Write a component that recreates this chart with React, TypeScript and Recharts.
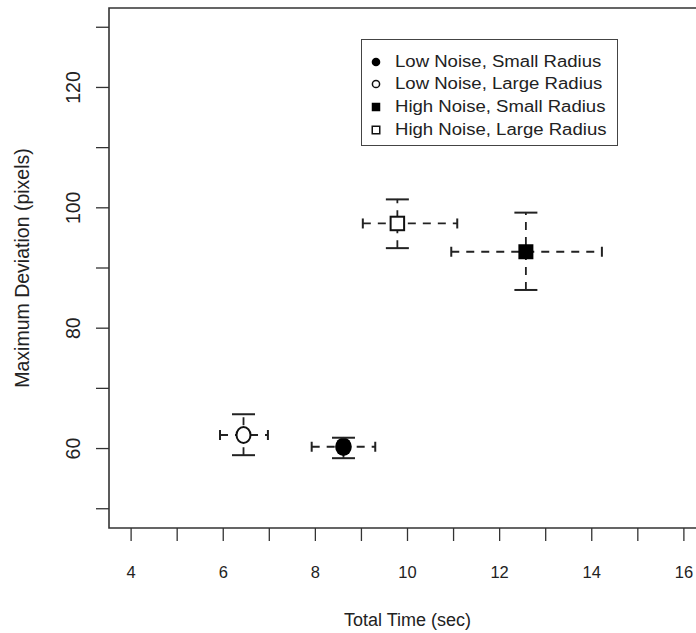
import {
  ErrorBar,
  Legend,
  ReferenceArea,
  Scatter,
  ScatterChart,
  XAxis,
  YAxis,
} from 'recharts'

// values
const seriesNames = [
  'Low Noise, Small Radius',
  'Low Noise, Large Radius',
  'High Noise, Small Radius',
  'High Noise, Large Radius',
]
const timeMean = [8.61, 6.44, 12.57, 9.78]
const timeLow = [7.92, 5.93, 10.95, 9.03]
const timeHigh = [9.3, 6.97, 14.22, 11.08]
const devMean = [60.3, 62.25, 92.7, 97.4]
const devLow = [58.4, 58.9, 86.35, 93.3]
const devHigh = [61.8, 65.7, 99.2, 101.4]

const xTicks = [4, 5, 6, 7, 8, 9, 10, 11, 12, 13, 14, 15, 16]
const xTickLabels = [4, 6, 8, 10, 12, 14, 16]
const yTicks = [50, 60, 70, 80, 90, 100, 110, 120, 130]
const yTickLabels = [60, 80, 100, 120]

// R-style 4% padding around xlim = c(4, 16), ylim = c(50, 130)
const X_DOMAIN: [number, number] = [3.52, 16.48]
const Y_DOMAIN: [number, number] = [46.8, 133.2]

const INK = '#222'
const FONT = '"Liberation Sans", Arial, Helvetica, sans-serif'

const MARKERS = [
  { shape: 'circle', filled: true },
  { shape: 'circle', filled: false },
  { shape: 'square', filled: true },
  { shape: 'square', filled: false },
] as const

const points = seriesNames.map((name, i) => [
  {
    name,
    x: timeMean[i],
    y: devMean[i],
    ex: [timeMean[i] - timeLow[i], timeHigh[i] - timeMean[i]],
    ey: [devMean[i] - devLow[i], devHigh[i] - devMean[i]],
  },
])

// caps of the error bars, drawn solid like R's arrows(angle = 90)
const yCaps = seriesNames.flatMap((_, i) => [
  { x: timeMean[i], y: devLow[i] },
  { x: timeMean[i], y: devHigh[i] },
])
const xCaps = seriesNames.flatMap((_, i) => [
  { x: timeLow[i], y: devMean[i] },
  { x: timeHigh[i], y: devMean[i] },
])

function Marker({ idx, cx, cy, big }: { idx: number; cx: number; cy: number; big: boolean }) {
  const m = MARKERS[idx]
  const sw = big ? 2 : 1.5
  if (m.shape === 'circle') {
    if (m.filled) {
      return big ? (
        <ellipse cx={cx} cy={cy} rx={8.3} ry={9.3} fill="#000" />
      ) : (
        <circle cx={cx} cy={cy} r={4.3} fill="#000" />
      )
    }
    return big ? (
      <ellipse cx={cx} cy={cy} rx={7} ry={8} fill="#fff" stroke="#111" strokeWidth={sw} />
    ) : (
      <circle cx={cx} cy={cy} r={3.6} fill="#fff" stroke="#111" strokeWidth={sw} />
    )
  }
  const s = m.filled ? (big ? 15 : 8.5) : big ? 13.5 : 7.5
  return (
    <rect
      x={cx - s / 2}
      y={cy - s / 2}
      width={s}
      height={s}
      fill={m.filled ? '#000' : '#fff'}
      stroke={m.filled ? 'none' : '#111'}
      strokeWidth={sw}
    />
  )
}

function XTick({ x, y, payload }: any) {
  if (!xTickLabels.includes(payload.value)) return <g />
  return (
    <text x={x} y={y} dy="0.71em" textAnchor="middle" fontSize={16.5} fill={INK} fontFamily={FONT}>
      {payload.value}
    </text>
  )
}

function YTick({ x, y, payload }: any) {
  if (!yTickLabels.includes(payload.value)) return <g />
  return (
    <text
      x={x}
      y={y}
      textAnchor="middle"
      fontSize={19.5}
      fill={INK}
      fontFamily={FONT}
      transform={`rotate(-90 ${x} ${y})`}
    >
      {payload.value}
    </text>
  )
}

function LegendBox() {
  return (
    <div
      style={{
        boxSizing: 'border-box',
        width: 257,
        height: 107,
        border: '1.5px solid #444',
        background: '#fff',
        paddingTop: 10.5,
        fontFamily: FONT,
        fontSize: 16,
        color: INK,
      }}
    >
      {seriesNames.map((name, i) => (
        <div key={name} style={{ display: 'flex', alignItems: 'center', height: 22.6 }}>
          <svg width={12} height={12} style={{ marginLeft: 8, flex: 'none' }}>
            <Marker idx={i} cx={6} cy={6} big={false} />
          </svg>
          <span
            style={{
              display: 'inline-block',
              marginLeft: 13,
              whiteSpace: 'nowrap',
              transform: 'scaleX(1.16)',
              transformOrigin: 'left center',
            }}
          >
            {name}
          </span>
        </div>
      ))}
    </div>
  )
}

export default function App() {
  return (
    <div
      style={{
        position: 'fixed',
        left: 0,
        top: 0,
        width: 696,
        height: 633,
        overflow: 'hidden',
        background: '#fff',
        fontFamily: FONT,
      }}
    >
      <ScatterChart width={720} height={633} margin={{ top: 8, right: 14, bottom: 0, left: 0 }}>
        <XAxis
          type="number"
          dataKey="x"
          domain={X_DOMAIN}
          allowDataOverflow
          ticks={xTicks}
          interval={0}
          axisLine={false}
          tickSize={13}
          tickMargin={25}
          tickLine={{ stroke: '#333', strokeWidth: 1.3 }}
          tick={<XTick />}
          height={105}
          label={{
            value: 'Total Time (sec)',
            position: 'insideBottom',
            offset: 7,
            style: { fontSize: 18, fill: INK, fontFamily: FONT },
          }}
        />
        <YAxis
          type="number"
          dataKey="y"
          domain={Y_DOMAIN}
          allowDataOverflow
          ticks={yTicks}
          interval={0}
          axisLine={false}
          tickSize={13}
          tickMargin={16}
          tickLine={{ stroke: '#333', strokeWidth: 1.3 }}
          tick={<YTick />}
          width={109}
          label={{
            value: 'Maximum Deviation (pixels)',
            angle: -90,
            position: 'insideLeft',
            offset: 22,
            style: { textAnchor: 'middle', fontSize: 19.5, fill: INK, fontFamily: FONT },
          }}
        />
        <ReferenceArea
          x1={X_DOMAIN[0]}
          x2={X_DOMAIN[1]}
          y1={Y_DOMAIN[0]}
          y2={Y_DOMAIN[1]}
          fill="none"
          stroke="#333"
          strokeWidth={1.6}
          ifOverflow="visible"
        />
        {points.map((data, i) => (
          <Scatter
            key={seriesNames[i]}
            name={seriesNames[i]}
            data={data}
            isAnimationActive={false}
            shape={(p: any) => <Marker idx={i} cx={p.cx} cy={p.cy} big />}
          >
            <ErrorBar
              dataKey="ex"
              direction="x"
              width={0}
              stroke={INK}
              strokeWidth={1.8}
              strokeDasharray="8 7"
              isAnimationActive={false}
            />
            <ErrorBar
              dataKey="ey"
              direction="y"
              width={0}
              stroke={INK}
              strokeWidth={1.8}
              strokeDasharray="8 7"
              isAnimationActive={false}
            />
          </Scatter>
        ))}
        <Scatter
          data={yCaps}
          legendType="none"
          isAnimationActive={false}
          shape={(p: any) => (
            <line x1={p.cx - 11.5} x2={p.cx + 11.5} y1={p.cy} y2={p.cy} stroke={INK} strokeWidth={2} />
          )}
        />
        <Scatter
          data={xCaps}
          legendType="none"
          isAnimationActive={false}
          shape={(p: any) => (
            <line x1={p.cx} x2={p.cx} y1={p.cy - 5} y2={p.cy + 5} stroke={INK} strokeWidth={2} />
          )}
        />
        <Legend
          layout="vertical"
          align="center"
          verticalAlign="middle"
          wrapperStyle={{ top: 39, left: 361, width: 257, height: 107 }}
          content={() => <LegendBox />}
        />
      </ScatterChart>
    </div>
  )
}
